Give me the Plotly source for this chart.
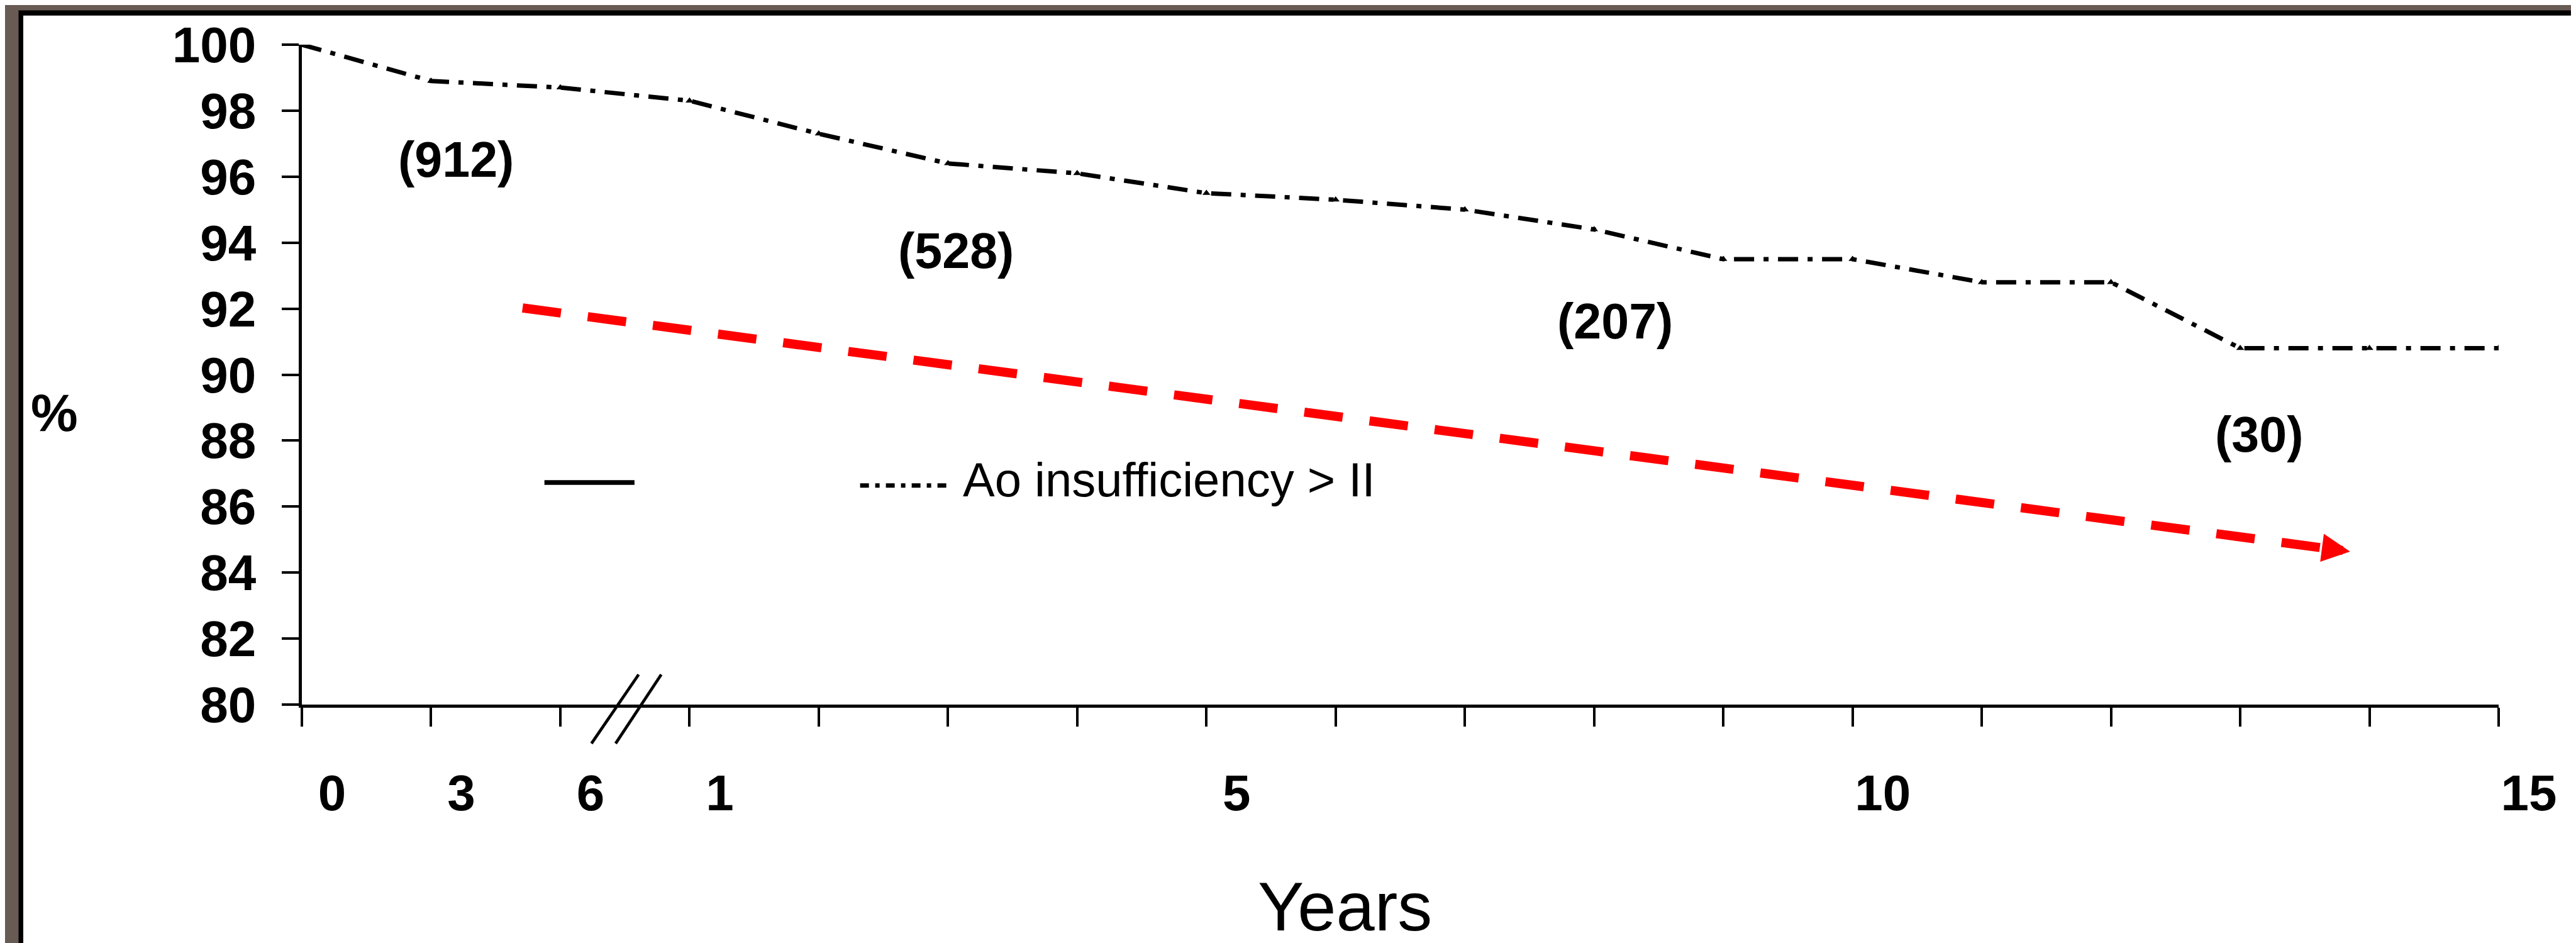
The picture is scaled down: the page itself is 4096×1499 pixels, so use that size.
import plotly.graph_objects as go

# ---------------- data ----------------
time_points = ["0 mo", "3 mo", "6 mo", "1 y", "2 y", "3 y", "4 y", "5 y", "6 y",
               "7 y", "8 y", "9 y", "10 y", "11 y", "12 y", "13 y", "14 y", "15 y"]
tick_labels = ["0", "3", "6", "1", "", "", "", "5", "", "", "", "", "10",
               "", "", "", "", "15"]
freedom_pct = [100.0, 98.9, 98.7, 98.3, 97.3, 96.4, 96.1, 95.5, 95.3, 95.0,
               94.4, 93.5, 93.5, 92.8, 92.8, 90.8, 90.8, 90.8]
y_ticks = [80, 82, 84, 86, 88, 90, 92, 94, 96, 98, 100]
at_risk_labels = ["(912)", "(528)", "(207)", "(30)"]
series_name = "Ao insufficiency > II"
x_title = "Years"
y_title = "%"

# ---------------- layout constants ----------------
W, H = 4096, 1499
ML, MR, MT, MB = 472, 131, 63, 387
PW = W - ML - MR
PH = H - MT - MB
FONT = "Liberation Sans, Arial, Helvetica, sans-serif"
BROWN = "#675b54"


def px_x(px):
    return (px - ML) / PW


def px_y(py):
    return (H - MB - py) / PH


DASHDOT = "32px,15px,8px,15px"

fig = go.Figure()
fig.add_trace(go.Scatter(
    x=time_points, y=freedom_pct, mode="lines+markers",
    line=dict(color="black", width=7, dash=DASHDOT),
    marker=dict(symbol="triangle-up", size=11, color="black"),
    showlegend=False, name=series_name,
))

shapes = [
    # frame: black border then white page
    dict(type="rect", xref="paper", yref="paper", layer="below",
         x0=px_x(21.5), x1=px_x(W + 20), y0=px_y(H + 20), y1=px_y(8.4),
         fillcolor="black", line=dict(width=0)),
    dict(type="rect", xref="paper", yref="paper", layer="below",
         x0=px_x(29), x1=px_x(W - 8.5), y0=px_y(H + 20), y1=px_y(16.8),
         fillcolor="white", line=dict(width=0)),
    # red dashed trend arrow shaft
    dict(type="line", xref="x", yref="y", x0=1.708, y0=92.02, x1=15.633, y1=84.751,
         line=dict(color="#ff0000", width=14.5, dash="61.5px,43px")),
    # legend samples
    dict(type="line", xref="x", yref="y", x0=1.877, x1=2.574, y0=86.73, y1=86.73,
         line=dict(color="black", width=7.5)),
    dict(type="line", xref="x", yref="y", x0=4.32, x1=5.02, y0=86.64, y1=86.64,
         line=dict(color="black", width=7, dash="14px,10px,7px,10px")),
    # axis break marks
    dict(type="line", xref="x", yref="paper", x0=2.241, x1=2.606,
         y0=(78.82 - 80) / 20, y1=(80.91 - 80) / 20,
         line=dict(color="black", width=4.7)),
    dict(type="line", xref="x", yref="paper", x0=2.428, x1=2.781,
         y0=(78.82 - 80) / 20, y1=(80.91 - 80) / 20,
         line=dict(color="black", width=4.7)),
]

BOLD = dict(family=FONT, color="black", weight="bold")

label_pos = [(1.19, 96.52), (5.06, 93.76), (10.16, 91.63), (15.15, 88.19)]
annotations = []
for txt, (ax_, ay_) in zip(at_risk_labels, label_pos):
    annotations.append(dict(x=ax_, y=ay_, xref="x", yref="y", text=txt,
                            showarrow=False, xanchor="center", yanchor="middle",
                            font=dict(size=79, **BOLD)))
annotations += [
    dict(x=5.107, y=86.82, xref="x", yref="y", text=series_name, showarrow=False,
         xanchor="left", yanchor="middle",
         font=dict(size=76, family=FONT, color="black")),
    dict(x=px_x(78), y=88.85, xref="paper", yref="y", text=y_title,
         showarrow=False, xanchor="center", yanchor="middle",
         font=dict(size=84, **BOLD)),
    dict(x=8.07, y=px_y(1432), xref="x", yref="paper", text=x_title,
         showarrow=False, xanchor="center", yanchor="middle",
         font=dict(size=110, family=FONT, color="black")),
    # red arrow head
    dict(x=15.85, y=84.64, xref="x", yref="y", ax=15.633, ay=84.751,
         axref="x", ayref="y", text="", showarrow=True, arrowhead=2,
         arrowwidth=14.5, arrowsize=0.62, arrowcolor="#ff0000"),
]

fig.update_layout(
    width=W, height=H,
    margin=dict(l=ML, r=MR, t=MT, b=MB, pad=0),
    paper_bgcolor=BROWN, plot_bgcolor="white",
    showlegend=False,
    font=dict(family=FONT, color="black"),
    shapes=shapes, annotations=annotations,
    xaxis=dict(type="category", categoryorder="array", categoryarray=time_points,
               range=[0, 17], tickmode="array", tickvals=time_points,
               ticktext=tick_labels, ticks="outside", ticklen=30, tickwidth=4,
               tickcolor="black", showline=True, linecolor="black", linewidth=4.7,
               showgrid=False, zeroline=False,
               tickfont=dict(size=80, **BOLD),
               ticklabelshift=48, ticklabelstandoff=37),
    yaxis=dict(range=[80, 100], tickmode="array", tickvals=y_ticks,
               ticks="outside", ticklen=27, tickwidth=4, tickcolor="black",
               showline=True, linecolor="black", linewidth=4.7,
               showgrid=False, zeroline=False,
               tickfont=dict(size=80, **BOLD),
               ticklabelstandoff=25),
)

fig.write_html("out.html")
